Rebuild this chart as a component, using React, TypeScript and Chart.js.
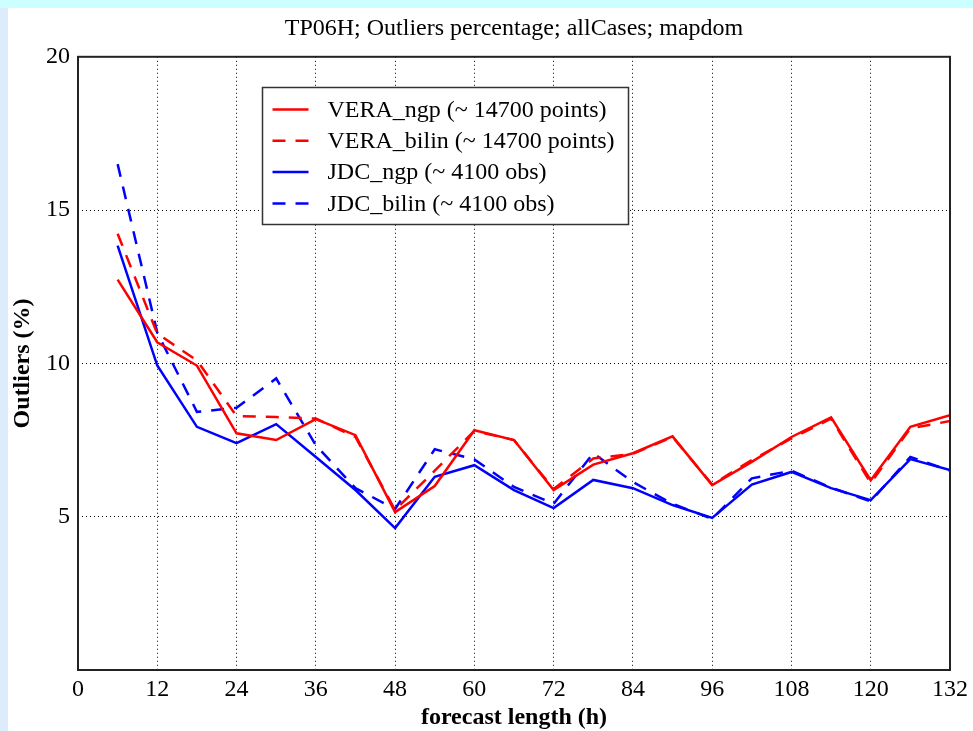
import React, { useEffect, useRef } from 'react';
import { Chart, registerables } from 'chart.js';

Chart.register(...registerables);

const hours = [6, 12, 18, 24, 30, 36, 42, 48, 54, 60, 66, 72, 78, 84, 90, 96, 102, 108, 114, 120, 126, 132];

const veraNgp = [12.73, 10.69, 9.93, 7.72, 7.5, 8.18, 7.66, 5.15, 6.0, 7.82, 7.5, 5.87, 6.7, 7.07, 7.62, 6.03, 6.79, 7.6, 8.24, 6.19, 7.93, 8.31];
const veraBilin = [14.23, 10.97, 10.1, 8.28, 8.25, 8.2, 7.6, 5.22, 6.5, 7.8, 7.5, 5.9, 6.9, 7.05, 7.6, 6.05, 6.85, 7.55, 8.2, 6.1, 7.88, 8.12];
const jdcNgp = [13.84, 9.93, 7.93, 7.4, 8.02, 6.95, 5.87, 4.63, 6.3, 6.68, 5.87, 5.28, 6.2, 5.93, 5.38, 4.96, 6.05, 6.46, 5.93, 5.54, 6.88, 6.52];
const jdcBilin = [16.5, 11.0, 8.42, 8.55, 9.51, 7.33, 5.93, 5.25, 7.2, 6.87, 5.97, 5.42, 7.07, 6.13, 5.42, 4.93, 6.25, 6.5, 5.95, 5.5, 6.95, 6.5];

const seriesLabels = [
  'VERA_ngp (~ 14700 points)',
  'VERA_bilin (~ 14700 points)',
  'JDC_ngp (~ 4100 obs)',
  'JDC_bilin (~ 4100 obs)',
];

const titleText = 'TP06H; Outliers percentage; allCases; mapdom';
const xTitle = 'forecast length (h)';
const yTitle = 'Outliers (%)';
const xMin = 0, xMax = 132, xStep = 12;
const yMin = 0, yMax = 20, yStep = 5;

const FONT = "'Liberation Serif', 'Times New Roman', Times, serif";
const RED = '#ff0000';
const BLUE = '#0000ff';
const DASH = [13, 10];

export default function App() {
  const ref = useRef<HTMLCanvasElement>(null);

  useEffect(() => {
    if (!ref.current) return;

    const framePlugin = {
      id: 'frame',
      afterDraw(chart: any) {
        const { ctx, chartArea } = chart;
        ctx.save();
        ctx.strokeStyle = '#222';
        ctx.lineWidth = 2;
        ctx.strokeRect(chartArea.left, chartArea.top, chartArea.right - chartArea.left, chartArea.bottom - chartArea.top);
        ctx.restore();
      },
    };

    const legendPlugin = {
      id: 'boxLegend',
      afterDraw(chart: any) {
        const { ctx, chartArea } = chart;
        const x0 = Math.round(chartArea.left + 184) + 0.5;
        const y0 = Math.round(chartArea.top + 30) + 0.5;
        const w = 366, h = 137;
        ctx.save();
        ctx.fillStyle = '#ffffff';
        ctx.fillRect(x0, y0, w, h);
        ctx.strokeStyle = '#333';
        ctx.lineWidth = 1.5;
        ctx.strokeRect(x0, y0, w, h);
        chart.data.datasets.forEach((ds: any, i: number) => {
          const y = y0 + 22 + i * 31.3;
          ctx.strokeStyle = ds.borderColor;
          ctx.lineWidth = 2.5;
          ctx.setLineDash(ds.borderDash || []);
          ctx.beginPath();
          ctx.moveTo(x0 + 10, y);
          ctx.lineTo(x0 + 46, y);
          ctx.stroke();
          ctx.setLineDash([]);
          ctx.fillStyle = '#000';
          ctx.font = `24px ${FONT}`;
          ctx.textBaseline = 'middle';
          ctx.textAlign = 'left';
          ctx.fillText(ds.label, x0 + 65, y + 1);
        });
        ctx.restore();
      },
    };

    const mk = (label: string, data: number[], color: string, dashed: boolean) => ({
      label,
      data: hours.map((h, i) => ({ x: h, y: data[i] })),
      borderColor: color,
      backgroundColor: color,
      borderWidth: 2.5,
      borderDash: dashed ? DASH : [],
      pointRadius: 0,
      tension: 0,
      fill: false,
    });

    const chart = new Chart(ref.current, {
      type: 'line',
      data: {
        datasets: [
          mk(seriesLabels[0], veraNgp, RED, false),
          mk(seriesLabels[1], veraBilin, RED, true),
          mk(seriesLabels[2], jdcNgp, BLUE, false),
          mk(seriesLabels[3], jdcBilin, BLUE, true),
        ],
      },
      options: {
        responsive: false,
        animation: false,
        devicePixelRatio: 1,
        layout: { padding: { left: 0, right: 22, top: 0, bottom: 0 } },
        plugins: {
          legend: { display: false },
          tooltip: { enabled: false },
          title: {
            display: true,
            text: titleText,
            fullSize: false,
            color: '#000',
            font: { family: FONT, size: 24, weight: 'normal', lineHeight: 1.2 },
            padding: { top: 6, bottom: 14 },
          },
        },
        scales: {
          x: {
            type: 'linear',
            min: xMin,
            max: xMax,
            afterFit: (s: any) => { s.height = 61; },
            ticks: {
              stepSize: xStep,
              color: '#000',
              font: { family: FONT, size: 24 },
              padding: 5,
              maxRotation: 0,
              autoSkip: false,
            },
            grid: {
              drawTicks: false,
              color: (c: any) => (c.tick && (c.tick.value === xMin || c.tick.value === xMax) ? 'rgba(0,0,0,0)' : '#000'),
              lineWidth: 1,
            },
            border: { display: false, dash: [1, 3] },
            title: {
              display: true,
              text: xTitle,
              color: '#000',
              font: { family: FONT, size: 24, weight: 'bold', lineHeight: 1.1 },
              padding: 0,
            },
          },
          y: {
            type: 'linear',
            min: yMin,
            max: yMax,
            afterFit: (s: any) => { s.width = 70; },
            ticks: {
              stepSize: yStep,
              color: '#000',
              font: { family: FONT, size: 24 },
              padding: 8,
              callback: (v: any) => (v === 0 ? '' : String(v)),
            },
            grid: {
              drawTicks: false,
              color: (c: any) => (c.tick && (c.tick.value === yMin || c.tick.value === yMax) ? 'rgba(0,0,0,0)' : '#000'),
              lineWidth: 1,
            },
            border: { display: false, dash: [1, 3] },
            title: {
              display: true,
              text: yTitle,
              color: '#000',
              font: { family: FONT, size: 24, weight: 'bold', lineHeight: 1.2 },
              padding: 0,
            },
          },
        },
      },
      plugins: [framePlugin, legendPlugin],
    });

    return () => chart.destroy();
  }, []);

  return (
    <div style={{ position: 'fixed', left: 0, top: 0, width: 973, height: 731, background: '#dcecfa', overflow: 'hidden' }}>
      <div style={{ position: 'absolute', left: 0, top: 0, width: 973, height: 8, background: '#ccffff' }} />
      <div style={{ position: 'absolute', left: 8, top: 8, width: 965, height: 723, background: '#ffffff' }}>
        <canvas ref={ref} width={965} height={723} style={{ display: 'block' }} />
      </div>
    </div>
  );
}
